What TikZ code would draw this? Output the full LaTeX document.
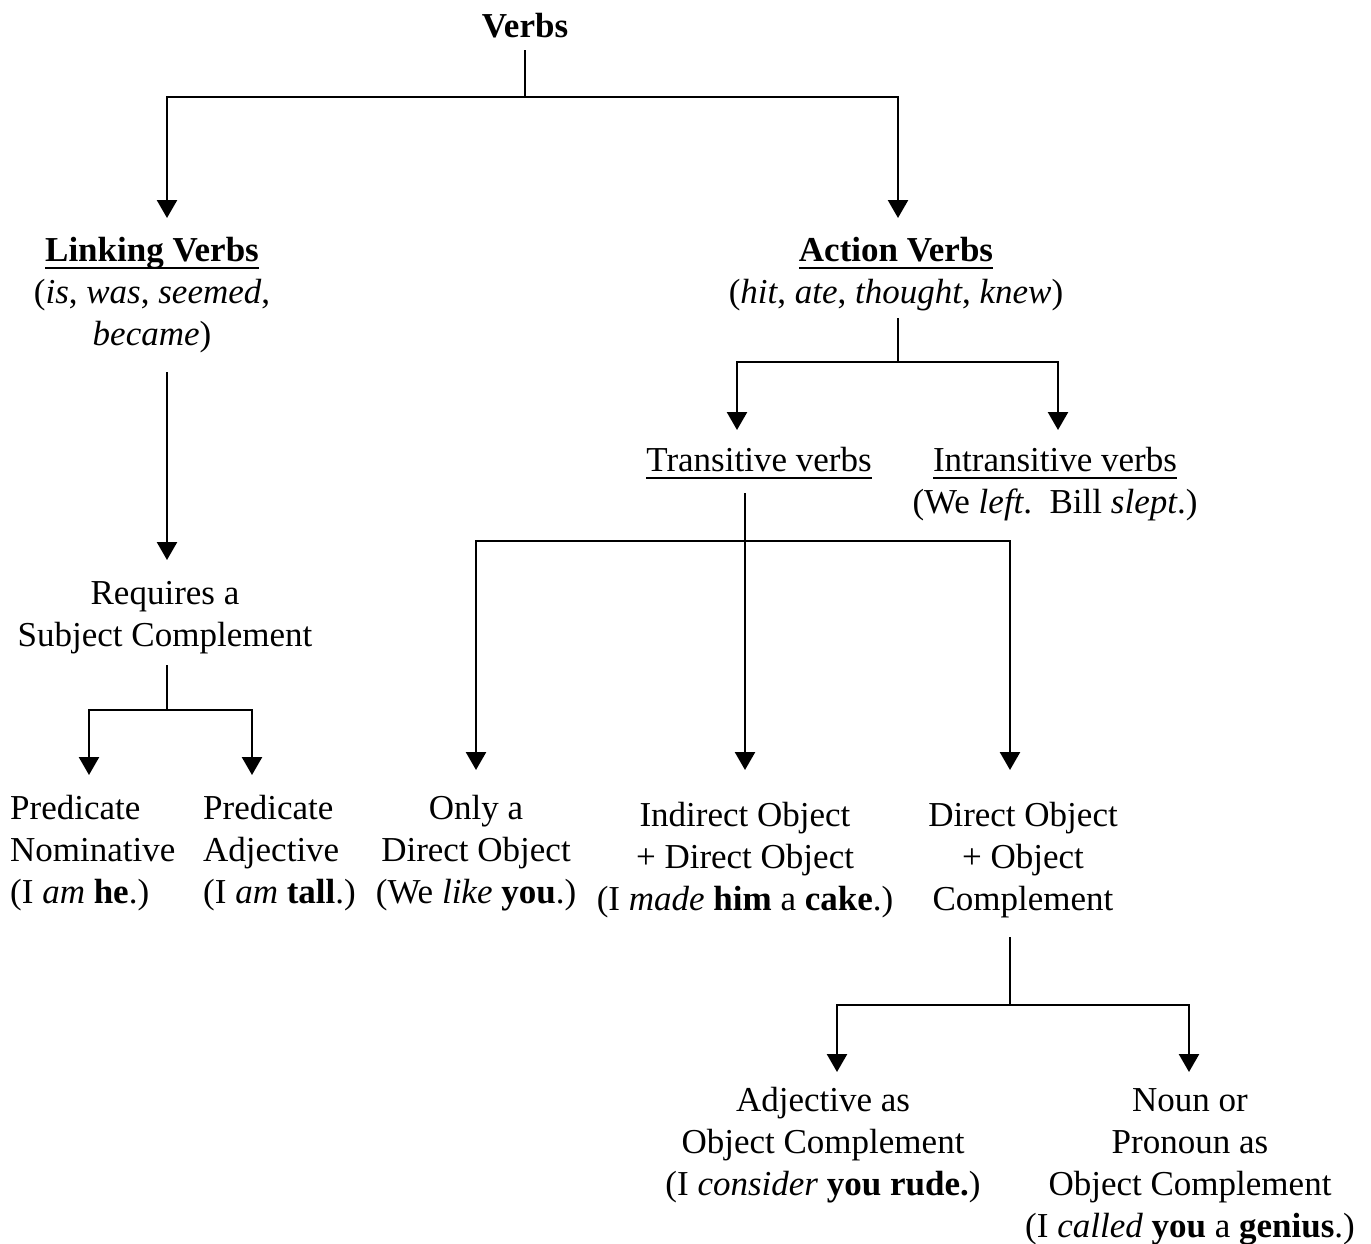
\documentclass[tikz,border=0pt]{standalone}
\usepackage{fontspec}
\setmainfont{Liberation Serif}
\usetikzlibrary{arrows.meta}
\newcommand\myul[1]{\setbox0=\hbox{#1}\leavevmode\rlap{\rule[-8pt]{\wd0}{2pt}}\box0}
\newcommand\tstrut{\rule{0pt}{25pt}}
\begin{document}
\begin{tikzpicture}[x=1pt,y=-1pt,
  every node/.style={font=\fontsize{35}{42}\selectfont, inner sep=0pt, align=center},
  conn/.style={line width=2.5pt, draw=black},
  arr/.style={conn, -{Triangle[width=20pt,length=18pt]}}]
\useasboundingbox (0,0) rectangle (1371,1243);
% nodes
\node[anchor=base] (verbs) at (525,37) {\textbf{Verbs}};
\node[anchor=north] (link) at (152,236) {\tstrut\myul{\textbf{Linking Verbs}}\\(\textit{is}, \textit{was}, \textit{seemed},\\\textit{became})};
\node[anchor=north] (action) at (896,236) {\tstrut\myul{\textbf{Action Verbs}}\\(\textit{hit}, \textit{ate}, \textit{thought}, \textit{knew})};
\node[anchor=base] (trans) at (759,471) {\myul{Transitive verbs}};
\node[anchor=north] (intrans) at (1055,446) {\tstrut\myul{Intransitive verbs}\\(We \textit{left}.\ \ Bill \textit{slept}.)};
\node[anchor=north] (req) at (165,579) {\tstrut Requires a\\Subject Complement};
\node[anchor=north west, align=left] (pn) at (10,794) {\tstrut Predicate\\Nominative\\(I \textit{am} \textbf{he}.)};
\node[anchor=north west, align=left] (pa) at (203,794) {\tstrut Predicate\\Adjective\\(I \textit{am} \textbf{tall}.)};
\node[anchor=north] (od) at (476,794) {\tstrut Only a\\Direct Object\\(We \textit{like} \textbf{you}.)};
\node[anchor=north] (io) at (745,801) {\tstrut Indirect Object\\+ Direct Object\\(I \textit{made} \textbf{him} a \textbf{cake}.)};
\node[anchor=north] (doc) at (1023,801) {\tstrut Direct Object\\+ Object\\Complement};
\node[anchor=north] (adj) at (823,1086) {\tstrut Adjective as\\Object Complement\\(I \textit{consider} \textbf{you rude.})};
\node[anchor=north] (noun) at (1190,1086) {\tstrut Noun or\\Pronoun as\\Object Complement\\(I \textit{called} \textbf{you} a \textbf{genius}.)};
% coordinates
\coordinate (vOut) at (525,50);
\coordinate (vJ) at (525,97);
\coordinate (lkIn) at (167,218);
\coordinate (acIn) at (898,218);
\coordinate (lkOut) at (167,372);
\coordinate (reqIn) at (167,560);
\coordinate (reqOut) at (167,665);
\coordinate (reqJ) at (167,710);
\coordinate (pnIn) at (89,775);
\coordinate (paIn) at (252,775);
\coordinate (acOut) at (898,318);
\coordinate (acJ) at (898,362);
\coordinate (trIn) at (737,430);
\coordinate (inIn) at (1058,430);
\coordinate (trOut) at (745,493);
\coordinate (trJ) at (745,541);
\coordinate (odIn) at (476,770);
\coordinate (ioIn) at (745,770);
\coordinate (docIn) at (1010,770);
\coordinate (docOut) at (1010,937);
\coordinate (docJ) at (1010,1005);
\coordinate (adjIn) at (837,1072);
\coordinate (nounIn) at (1189,1072);
% connectors
\draw[conn] (vOut) -- (vJ);
\draw[arr] (vJ) -| (lkIn);
\draw[arr] (vJ) -| (acIn);
\draw[arr] (lkOut) -- (reqIn);
\draw[conn] (reqOut) -- (reqJ);
\draw[arr] (reqJ) -| (pnIn);
\draw[arr] (reqJ) -| (paIn);
\draw[conn] (acOut) -- (acJ);
\draw[arr] (acJ) -| (trIn);
\draw[arr] (acJ) -| (inIn);
\draw[arr] (trOut) -- (ioIn);
\draw[arr] (trJ) -| (odIn);
\draw[arr] (trJ) -| (docIn);
\draw[conn] (docOut) -- (docJ);
\draw[arr] (docJ) -| (adjIn);
\draw[arr] (docJ) -| (nounIn);
\end{tikzpicture}
\end{document}
